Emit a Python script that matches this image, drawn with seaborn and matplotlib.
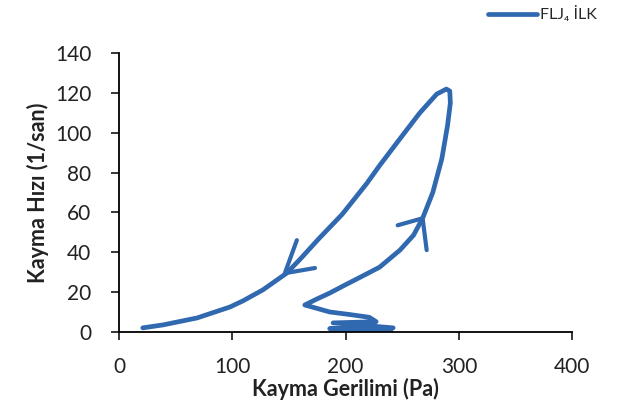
import matplotlib
matplotlib.use("Agg")
import matplotlib.pyplot as plt
import seaborn as sns
import pandas as pd

sns.set_theme(style="white")
plt.rcParams["font.family"] = ["Lato", "DejaVu Sans"]

# Flow curve: shear stress (Pa) vs shear rate (1/s), ramp up then ramp down
stress = [240, 188, 236, 186, 242, 189, 227, 221, 205, 186, 164,
          175, 186, 198, 210, 230, 248, 260, 268, 277, 285, 290, 292.5, 292,
          289, 280.5, 265.5, 248, 230, 218.7, 197, 176, 160, 148, 127, 109.5,
          98, 69, 39, 21]
rate = [0.4, 0.6, 1.0, 1.5, 1.9, 4.4, 5.0, 7.2, 8.5, 9.9, 13.4,
        16.5, 19.4, 23, 26.5, 32.4, 41, 48.5, 57, 70, 87, 103.6, 115, 121,
        122, 119.5, 110, 97, 83.5, 74.5, 59, 46.5, 36.5, 29.4, 21, 15.5,
        12.4, 6.9, 3.4, 1.9]

# Direction arrows: tip, then the two barb ends
arrow_down = [(146.4, 29.4), (157, 46), (173, 32)]
arrow_up = [(268, 57), (246, 53.5), (271.6, 41)]

series_name = "FLJ\u2084 \u0130LK"
blue = "#3169b0"

df = pd.DataFrame({"stress": stress, "rate": rate, "series": series_name})

fig = plt.figure(figsize=(6.25, 4.13), dpi=100)
ax = fig.add_axes([0.1904, 0.197, 0.7250, 0.674])

sns.lineplot(data=df, x="stress", y="rate", hue="series", palette=[blue],
             sort=False, estimator=None, linewidth=3.4, ax=ax)
for line in ax.get_lines():
    line.set_solid_joinstyle("round")
    line.set_solid_capstyle("round")

for tip, b1, b2 in (arrow_down, arrow_up):
    ax.plot([b1[0], tip[0], b2[0]], [b1[1], tip[1], b2[1]], color=blue,
            linewidth=3.0, solid_capstyle="round", solid_joinstyle="round")

ax.set_xlim(0, 400)
ax.set_ylim(0, 140)
ax.set_xticks(range(0, 401, 100))
ax.set_yticks(range(0, 141, 20))

for side in ("top", "right"):
    ax.spines[side].set_visible(False)
for side in ("left", "bottom"):
    ax.spines[side].set_color("black")
    ax.spines[side].set_linewidth(1.3)

ax.tick_params(axis="both", which="major", direction="out", length=6,
               width=1.1, color="black", labelsize=15, labelcolor="#222222",
               bottom=True, left=True)
ax.tick_params(axis="y", pad=14)
ax.tick_params(axis="x", pad=12)

ax.set_xlabel("Kayma Gerilimi (Pa)", fontsize=15.5, fontweight="bold",
              color="#222222", labelpad=1)
ax.set_ylabel("Kayma H\u0131z\u0131 (1/san)", fontsize=15.5, fontweight="bold",
              color="#222222", labelpad=4)

leg = ax.legend(loc="center left", bbox_to_anchor=(0.80, 1.14), frameon=False,
                fontsize=11.5, handlelength=3.1, borderaxespad=0, handletextpad=0.15)
for line in leg.get_lines():
    line.set_linewidth(3.4)

fig.savefig("out.png", dpi=100)
